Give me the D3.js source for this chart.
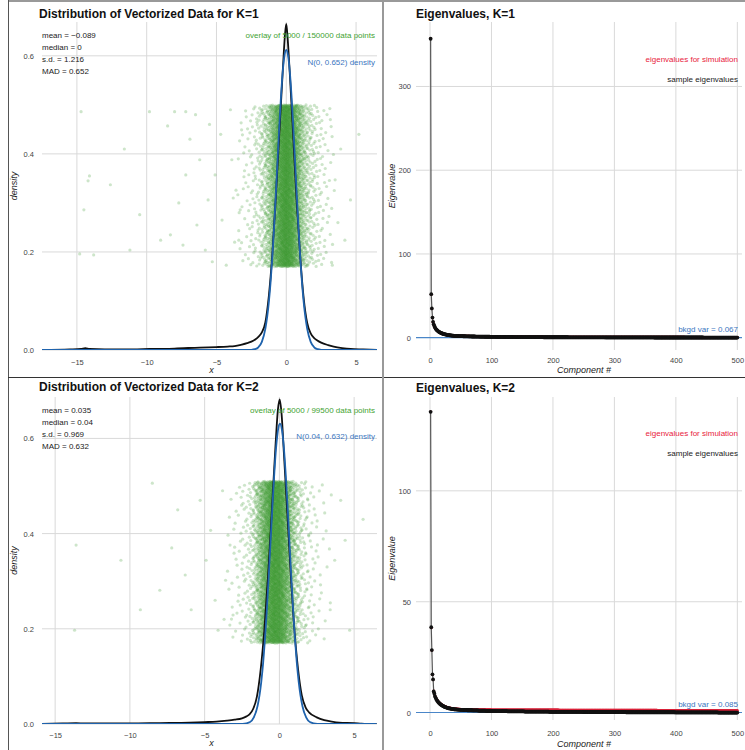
<!DOCTYPE html>
<html>
<head>
<meta charset="utf-8">
<script src="https://cdn.jsdelivr.net/npm/d3@7"></script>
<style>
body { margin: 0; background: #fff; }
svg { display: block; font-family: 'Liberation Sans', Arial, Helvetica, sans-serif; }
</style>
</head>
<body>
<svg id="chart" width="745" height="750"></svg>
<script>
// ---- data ----

// empirical density of the vectorized data, [x, density]
var densityK1 = [[-17.5,0],[-15.5,0.001],[-14.7,0.002],[-14.4,0.004],[-14.1,0.002],[-13,0.001],[-11,0.001],[-9.8,0.002],[-8,0.003],[-6.2,0.005],[-5,0.006],[-4.2,0.007],[-3.7,0.008],[-3.2,0.011],[-2.8,0.014],[-2.5,0.017],[-2.2,0.022],[-2,0.027],[-1.75,0.036],[-1.5,0.056],[-1.25,0.11],[-1,0.195],[-0.75,0.31],[-0.5,0.44],[-0.25,0.57],[-0.1,0.64],[0,0.665],[0.1,0.635],[0.25,0.565],[0.5,0.435],[0.75,0.3],[1,0.19],[1.25,0.105],[1.5,0.055],[1.75,0.034],[2,0.024],[2.2,0.02],[2.5,0.015],[3,0.01],[3.4,0.007],[4,0.004],[4.6,0.002],[5.5,0.001],[6.5,0]]
var densityK2 = [[-15.9,0],[-14.5,0.001],[-13.6,0.002],[-13,0.001],[-10,0.001],[-8,0.002],[-6,0.003],[-5,0.004],[-4.2,0.005],[-3.5,0.007],[-3,0.009],[-2.5,0.012],[-2.2,0.016],[-2,0.02],[-1.75,0.032],[-1.5,0.058],[-1.25,0.115],[-1,0.2],[-0.75,0.315],[-0.5,0.45],[-0.25,0.59],[-0.1,0.66],[0.02,0.682],[0.15,0.65],[0.3,0.57],[0.5,0.46],[0.75,0.32],[1,0.2],[1.25,0.115],[1.5,0.06],[1.75,0.035],[2,0.024],[2.5,0.014],[3,0.008],[3.5,0.005],[4,0.003],[5,0.002],[5.5,0.001],[6.5,0]]

// reference normal densities N(0, 0.652) and N(0.04, 0.632)
var normalK1 = [[-17.5,0],[-3,0],[-2.5,0.0004],[-2.25,0.0016],[-2,0.0055],[-1.75,0.0167],[-1.5,0.043],[-1.25,0.097],[-1.125,0.138],[-1,0.189],[-0.875,0.249],[-0.75,0.316],[-0.625,0.387],[-0.5,0.456],[-0.375,0.519],[-0.25,0.569],[-0.125,0.601],[0,0.612],[0.125,0.601],[0.25,0.569],[0.375,0.519],[0.5,0.456],[0.625,0.387],[0.75,0.316],[0.875,0.249],[1,0.189],[1.125,0.138],[1.25,0.097],[1.5,0.043],[1.75,0.0167],[2,0.0055],[2.25,0.0016],[2.5,0.0004],[3,0],[6.5,0]]
var normalK2 = [[-15.9,0],[-2.96,0],[-2.46,0.0003],[-1.96,0.0042],[-1.71,0.0137],[-1.46,0.0377],[-1.21,0.0892],[-1.085,0.129],[-0.96,0.18],[-0.835,0.242],[-0.71,0.312],[-0.585,0.387],[-0.46,0.461],[-0.335,0.529],[-0.21,0.584],[-0.085,0.619],[0.04,0.631],[0.165,0.619],[0.29,0.584],[0.415,0.529],[0.54,0.461],[0.665,0.387],[0.79,0.312],[0.915,0.242],[1.04,0.18],[1.165,0.129],[1.29,0.0892],[1.54,0.0377],[1.79,0.0137],[2.04,0.0042],[2.54,0.0003],[3.04,0],[6.5,0]]

var statsK1 = ['mean = \u22120.089', 'median = 0', 's.d. = 1.216', 'MAD = 0.652']
var statsK2 = ['mean = 0.035', 'median = 0.04', 's.d. = 0.969', 'MAD = 0.632']

// overlay of 5000 points: counts per 0.25-wide bin from -3.5 to 3.5, plus the scattered outliers [x, jitter]
var overlayBinStart = -3.5
var overlayBinWidth = 0.25
var overlayCountsK1 = [6, 8, 12, 15, 20, 28, 45, 75, 113, 174, 276, 400, 543, 656, 645, 533, 390, 266, 164, 107, 66, 45, 30, 21, 15, 11, 7, 5]
var overlayCountsK2 = [5, 7, 10, 13, 18, 26, 45, 95, 185, 290, 420, 560, 670, 650, 545, 410, 280, 175, 105, 62, 36, 24, 16, 11, 8, 6, 4, 3]
var outliersK1 = [[-14.7,0.486],[-14.2,0.345],[-14.5,0.286],[-14.8,0.196],[-13.8,0.194],[-14.1,0.355],[-11.6,0.41],[-12.6,0.337],[-11.2,0.204],[-10.5,0.276],[-9.8,0.486],[-9,0.224],[-8.5,0.457],[-8.3,0.235],[-8,0.486],[-7.7,0.3],[-7.4,0.214],[-7.2,0.486],[-7.2,0.357],[-6.9,0.43],[-6.5,0.48],[-6.4,0.255],[-6.2,0.388],[-5.8,0.204],[-5.6,0.306],[-5.5,0.46],[-5.3,0.18],[-5.1,0.357],[-4.7,0.44],[-4.6,0.265],[-4.3,0.173],[-4,0.49],[-3.9,0.388],[-3.8,0.31],[-3.7,0.22],[-3.6,0.326],[-3.4,0.224],[-3.3,0.286],[-3.2,0.449],[3.16,0.47],[3.5,0.347],[3.9,0.41],[4.2,0.224],[3.3,0.173],[4.6,0.306],[3.7,0.26],[5.2,0.44]]
var outliersK2 = [[-13.7,0.197],[-13.6,0.376],[-10.6,0.344],[-9.3,0.24],[-8.5,0.506],[-8,0.281],[-7.2,0.37],[-6.8,0.45],[-6.3,0.313],[-5.9,0.24],[-5.3,0.47],[-4.9,0.344],[-4.6,0.407],[-4.3,0.26],[-4.1,0.197],[-3.8,0.49],[-3.7,0.22],[-3.6,0.302],[-3.3,0.376],[-3.1,0.229],[4.1,0.47],[4.7,0.197],[3.7,0.344],[3.4,0.24],[4.4,0.386],[5.6,0.43]]

// eigenvalues: components 1-40 listed one by one, 41-500 as [value, how many components]
var eigSampleK1Head = [357, 52, 35, 24, 19, 16, 14, 12.5, 11, 10, 9.2, 8.5, 7.9, 7.3, 6.8, 6.4, 6, 5.6, 5.3, 5, 4.7, 4.5, 4.3, 4.1, 3.9, 3.7, 3.5, 3.4, 3.2, 3.1, 3, 2.9, 2.8, 2.7, 2.6, 2.5, 2.4, 2.3, 2.25, 2.2]
var eigSampleK1Tail = [[2.1,3],[2,3],[1.9,3],[1.8,4],[1.7,4],[1.6,5],[1.5,5],[1.4,6],[1.3,7],[1.2,8],[1.1,9],[1,10],[0.9,12],[0.8,15],[0.7,20],[0.6,30],[0.5,40],[0.4,60],[0.3,80],[0.2,80],[0.1,56]]
var eigSimK1Head = [357, 51.5, 34.5, 23.5, 18.5, 15.5, 13.5, 12, 10.8, 9.8, 9, 8.3, 7.7, 7.2, 6.7, 6.3, 5.9, 5.5, 5.2, 4.9, 4.6, 4.4, 4.2, 4, 3.8, 3.6, 3.5, 3.3, 3.2, 3.1, 3, 2.9, 2.8, 2.7, 2.6, 2.5, 2.45, 2.4, 2.3, 2.25]
var eigSimK1Tail = [[2.2,3],[2.1,3],[2,4],[1.9,4],[1.8,5],[1.7,5],[1.6,6],[1.5,7],[1.4,8],[1.3,9],[1.2,11],[1.1,13],[1,16],[0.9,20],[0.8,30],[0.7,50],[0.6,80],[0.5,100],[0.4,86]]
var eigSampleK2Head = [135.6, 38.5, 28.2, 17.3, 15, 9.6, 8.7, 7.5, 6.8, 6.2, 5.7, 5.3, 4.9, 4.6, 4.3, 4, 3.8, 3.6, 3.4, 3.2, 3.05, 2.9, 2.75, 2.6, 2.5, 2.4, 2.3, 2.2, 2.1, 2, 1.95, 1.9, 1.85, 1.8, 1.75, 1.7, 1.65, 1.6, 1.55, 1.5]
var eigSampleK2Tail = [[1.45,3],[1.4,4],[1.3,6],[1.2,7],[1.1,8],[1,10],[0.9,12],[0.8,15],[0.7,20],[0.6,28],[0.5,40],[0.4,55],[0.3,70],[0.2,80],[0.1,70],[0.05,32]]
var eigSimK2Head = [135.6, 38.2, 28, 17.1, 14.8, 9.8, 8.9, 7.7, 7, 6.4, 5.9, 5.5, 5.1, 4.8, 4.5, 4.2, 4, 3.8, 3.6, 3.4, 3.25, 3.1, 2.95, 2.8, 2.7, 2.6, 2.5, 2.4, 2.3, 2.2, 2.15, 2.1, 2.05, 2, 1.95, 1.9, 1.85, 1.8, 1.75, 1.7]
var eigSimK2Tail = [[1.65,4],[1.6,5],[1.5,8],[1.45,10],[1.4,14],[1.35,18],[1.3,25],[1.25,35],[1.2,50],[1.15,70],[1.1,90],[1.05,131]]

var bkgdVar = [0.067, 0.085]

var xTicksDist = [-15, -10, -5, 0, 5]
var yTicksDist = [0, 0.2, 0.4, 0.6]
var xTicksEig = [0, 100, 200, 300, 400, 500]
var yTicksEigK1 = [0, 100, 200, 300]
var yTicksEigK2 = [0, 50, 100]

// ---- drawing ----
var svg = d3.select('#chart')
var defs = svg.append('defs')

var gridColor = '#d9d9d9'
var tickColor = '#444'

// deterministic spread of the overlay points inside their bin / jitter band
function halton(i, b) {
    var f = 1, r = 0
    while (i > 0) {
        f = f / b
        r += f * (i % b)
        i = Math.floor(i / b)
    }
    return r
}

function expandEig(head, tail) {
    var out = head.map(function(v, i) { return { c: i + 1, v: v } })
    tail.forEach(function(run) {
        for (var k = 0; k < run[1]; k++) out.push({ c: out.length + 1, v: run[0] })
    })
    return out
}

function clip(id, p) {
    defs.append('clipPath').attr('id', id).append('rect')
        .attr('x', p.x0).attr('y', p.y0)
        .attr('width', p.x1 - p.x0).attr('height', p.y1 - p.y0)
}

function grid(g, x, y, p, xt, yt) {
    g.append('g').selectAll('line').data(xt).enter().append('line')
        .attr('x1', x).attr('x2', x)
        .attr('y1', p.y0).attr('y2', p.y1)
        .attr('stroke', gridColor).attr('stroke-width', 1)
    g.append('g').selectAll('line').data(yt).enter().append('line')
        .attr('x1', p.x0).attr('x2', p.x1)
        .attr('y1', y).attr('y2', y)
        .attr('stroke', gridColor).attr('stroke-width', 1)
}

function axes(g, x, y, p, xt, yt, yfmt) {
    var ax = g.append('g').attr('transform', 'translate(0,' + p.y1 + ')')
        .call(d3.axisBottom(x).tickValues(xt).tickSize(0).tickPadding(p.xpad))
    var ay = g.append('g').attr('transform', 'translate(' + p.x0 + ',0)')
        .call(d3.axisLeft(y).tickValues(yt).tickSize(0).tickPadding(p.ypad).tickFormat(yfmt))
    ;[ax, ay].forEach(function(a) {
        a.select('.domain').remove()
        a.attr('font-family', null).attr('font-size', 7.5)
        a.selectAll('text').attr('fill', tickColor)
    })
}

function label(g, txt, xx, yy, opts) {
    var t = g.append('text').text(txt)
        .attr('x', xx).attr('y', yy)
        .attr('font-size', opts.size || 8)
        .attr('fill', opts.fill || '#222')
        .attr('text-anchor', opts.anchor || 'start')
    if (opts.bold) t.attr('font-weight', 'bold')
    if (opts.italic) t.attr('font-style', 'italic')
    if (opts.rotate) t.attr('transform', 'rotate(-90,' + xx + ',' + yy + ')')
    return t
}

function drawDist(cfg) {
    var p = cfg.box
    var x = d3.scaleLinear().domain(cfg.xDomain).range([p.x0, p.x1])
    var y = d3.scaleLinear().domain(cfg.yDomain).range([p.y1, p.y0])
    var g = svg.append('g')
    clip(cfg.id, p)

    grid(g, x, y, p, xTicksDist, yTicksDist)
    axes(g, x, y, p, xTicksDist, yTicksDist, d3.format('.1f'))

    // overlay of data points
    var pts = []
    var k = 1
    cfg.counts.forEach(function(n, j) {
        for (var m = 0; m < n; m++) {
            pts.push([overlayBinStart + overlayBinWidth * (j + halton(k, 2)),
                cfg.band[0] + (cfg.band[1] - cfg.band[0]) * halton(k, 3)])
            k++
        }
    })
    pts = pts.concat(cfg.outliers)

    var plot = g.append('g').attr('clip-path', 'url(#' + cfg.id + ')')
    plot.append('g').selectAll('circle').data(pts).enter().append('circle')
        .attr('cx', function(d) { return x(d[0]) })
        .attr('cy', function(d) { return y(d[1]) })
        .attr('r', 1.6)
        .attr('fill', '#3c9c32')
        .attr('fill-opacity', 0.26)

    var line = d3.line()
        .x(function(d) { return x(d[0]) })
        .y(function(d) { return y(d[1]) })
        .curve(d3.curveMonotoneX)

    plot.append('path').datum(cfg.density)
        .attr('d', line).attr('fill', 'none')
        .attr('stroke', '#111').attr('stroke-width', 1.8)
    plot.append('path').datum(cfg.normal)
        .attr('d', line).attr('fill', 'none')
        .attr('stroke', '#1f63ad').attr('stroke-width', 1.8)

    label(g, cfg.title, 39, p.titleY, { size: 12, bold: true, fill: '#111' })
    cfg.stats.forEach(function(s, i) {
        label(g, s, 42, p.statsY + i * cfg.statsGap, { size: 8 })
    })
    label(g, cfg.overlayText, 375, p.statsY, { size: 8, anchor: 'end', fill: '#3fa332' })
    label(g, cfg.normalText, 375, p.normY, { size: 8, anchor: 'end', fill: '#3a76c0' })
    label(g, 'density', 17, (p.y0 + p.y1) / 2, { size: 9, italic: true, rotate: true, anchor: 'middle' })
    label(g, 'x', (p.x0 + p.x1) / 2 + 2, p.xLabelY, { size: 9, italic: true, anchor: 'middle' })
}

function drawEig(cfg) {
    var p = cfg.box
    var x = d3.scaleLinear().domain(cfg.xDomain).range([p.x0, p.x1])
    var y = d3.scaleLinear().domain(cfg.yDomain).range([p.y1, p.y0])
    var g = svg.append('g')
    clip(cfg.id, p)

    grid(g, x, y, p, xTicksEig, cfg.yTicks.filter(function(v) { return v > 0 }))
    axes(g, x, y, p, xTicksEig, cfg.yTicks, d3.format('d'))

    var plot = g.append('g').attr('clip-path', 'url(#' + cfg.id + ')')

    plot.append('line')
        .attr('x1', p.x0).attr('x2', p.x1)
        .attr('y1', y(cfg.bkgd)).attr('y2', y(cfg.bkgd))
        .attr('stroke', '#4a86c8').attr('stroke-width', 1.2)

    var line = d3.line()
        .x(function(d) { return x(d.c) })
        .y(function(d) { return y(d.v) })

    // simulation eigenvalues: red dots under the sample series
    plot.append('g').selectAll('circle').data(cfg.sim).enter().append('circle')
        .attr('cx', function(d) { return x(d.c) })
        .attr('cy', function(d) { return y(d.v) })
        .attr('r', 1.4).attr('fill', '#d9233a')

    plot.append('path').datum(cfg.sample)
        .attr('d', line).attr('fill', 'none')
        .attr('stroke', '#555').attr('stroke-width', 1.2)
    plot.append('g').selectAll('circle').data(cfg.sample).enter().append('circle')
        .attr('cx', function(d) { return x(d.c) })
        .attr('cy', function(d) { return y(d.v) })
        .attr('r', 1.9).attr('fill', '#111')

    label(g, cfg.title, 416, p.titleY, { size: 12, bold: true, fill: '#111' })
    label(g, 'eigenvalues for simulation', 738, p.legY, { size: 8, anchor: 'end', fill: '#e8223d' })
    label(g, 'sample eigenvalues', 738, p.legY + 20, { size: 8, anchor: 'end', fill: '#222' })
    label(g, 'bkgd var = ' + cfg.bkgd, 738, y(cfg.bkgd) - 5.5, { size: 8, anchor: 'end', fill: '#3a76c0' })
    label(g, 'Eigenvalue', 395, (p.y0 + p.y1) / 2, { size: 9, italic: true, rotate: true, anchor: 'middle' })
    label(g, 'Component #', 584, p.xLabelY, { size: 9, italic: true, anchor: 'middle' })
}

drawDist({
    id: 'clipTL',
    box: { x0: 42, x1: 377, y0: 22, y1: 350, xpad: 9.2, ypad: 8, titleY: 18, statsY: 38, normY: 64.7, xLabelY: 373 },
    xDomain: [-17.5, 6.5], yDomain: [0, 0.669],
    density: densityK1, normal: normalK1,
    counts: overlayCountsK1, outliers: outliersK1, band: [0.17, 0.5],
    title: 'Distribution of Vectorized Data for K=1',
    stats: statsK1, statsGap: 12,
    overlayText: 'overlay of 5000 / 150000 data points',
    normalText: 'N(0, 0.652) density'
})

drawDist({
    id: 'clipBL',
    box: { x0: 42, x1: 377, y0: 397, y1: 724, xpad: 8.2, ypad: 8, titleY: 391, statsY: 413, normY: 438.7, xLabelY: 746 },
    xDomain: [-15.88, 6.53], yDomain: [0, 0.687],
    density: densityK2, normal: normalK2,
    counts: overlayCountsK2, outliers: outliersK2, band: [0.17, 0.51],
    title: 'Distribution of Vectorized Data for K=2',
    stats: statsK2, statsGap: 11.9,
    overlayText: 'overlay of 5000 / 99500 data points',
    normalText: 'N(0.04, 0.632) density'
})

drawEig({
    id: 'clipTR',
    box: { x0: 416, x1: 742, y0: 22, y1: 350, xpad: 7.2, ypad: 5, titleY: 18, legY: 62, xLabelY: 373 },
    xDomain: [-22.8, 507.6], yDomain: [-14.7, 377],
    yTicks: yTicksEigK1,
    sample: expandEig(eigSampleK1Head, eigSampleK1Tail),
    sim: expandEig(eigSimK1Head, eigSimK1Tail),
    bkgd: bkgdVar[0],
    title: 'Eigenvalues, K=1'
})

drawEig({
    id: 'clipBR',
    box: { x0: 416, x1: 742, y0: 397, y1: 720, xpad: 10.7, ypad: 5, titleY: 392, legY: 435.5, xLabelY: 747 },
    xDomain: [-22.8, 507.6], yDomain: [-3.3, 142.3],
    yTicks: yTicksEigK2,
    sample: expandEig(eigSampleK2Head, eigSampleK2Tail),
    sim: expandEig(eigSimK2Head, eigSimK2Tail),
    bkgd: bkgdVar[1],
    title: 'Eigenvalues, K=2'
})

// panel frame lines
svg.append('line').attr('x1', 8).attr('x2', 745).attr('y1', 1).attr('y2', 1).attr('stroke', '#777').attr('stroke-width', 1.5)
svg.append('line').attr('x1', 8.5).attr('x2', 8.5).attr('y1', 0).attr('y2', 750).attr('stroke', '#555').attr('stroke-width', 1)
svg.append('line').attr('x1', 8).attr('x2', 745).attr('y1', 377.5).attr('y2', 377.5).attr('stroke', '#333').attr('stroke-width', 1.2)
svg.append('line').attr('x1', 383).attr('x2', 383).attr('y1', 0).attr('y2', 750).attr('stroke', '#999').attr('stroke-width', 2)
</script>
</body>
</html>
